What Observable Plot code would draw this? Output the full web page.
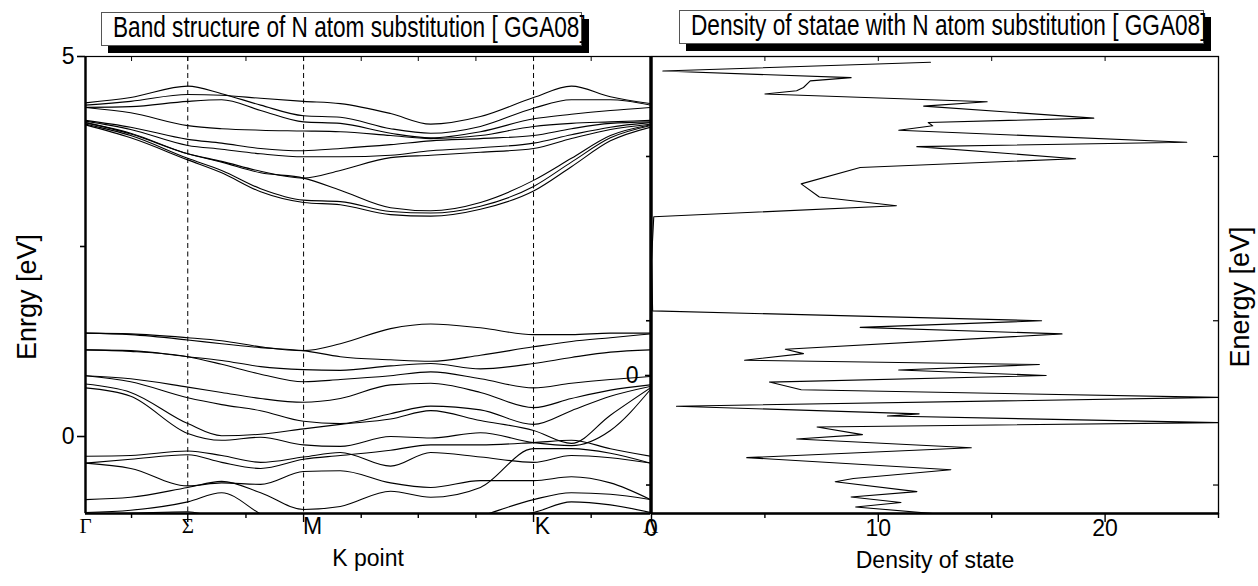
<!DOCTYPE html>
<html>
<head>
<meta charset="utf-8">
<script src="https://cdn.jsdelivr.net/npm/d3@7"></script>
<script src="https://cdn.jsdelivr.net/npm/@observablehq/plot@0.6"></script>
<style>
  html, body { margin: 0; padding: 0; background: #fff; }
  #wrap { position: relative; width: 1258px; height: 586px; overflow: hidden; }
  #wrap svg { position: absolute; top: 0; overflow: visible; background: transparent; }
  .title {
    position: absolute; height: 34px; box-sizing: border-box;
    border: 1px solid #555; background: #fff; box-shadow: 7px 7px 0 #000;
    font-family: "Liberation Sans", Arial, sans-serif;
    font-size: 29px; line-height: 29px; padding-left: 11px; white-space: nowrap; color: #000;
  }
  .title span { display: inline-block; transform: scaleX(0.78); transform-origin: 0 50%; }
</style>
</head>
<body>
<div id="wrap">
  <div class="title" style="left:101px; top:12px; width:481px;"><span>Band structure of N atom substitution [ GGA08]</span></div>
  <div class="title" style="left:679px; top:10px; width:525px;"><span>Density of statae with N atom substitution [ GGA08]</span></div>
</div>
<script>
// ---- k-path (fraction of total path length) ----
const kPath = [0, 0.080, 0.181, 0.241, 0.310, 0.386, 0.451, 0.540, 0.611, 0.699, 0.793, 0.860, 0.929, 1.0];

// high-symmetry points on the path
const symNames = ["Γ", "Σ", "M", "K", "Λ"];
const symK = [0, 0.181, 0.386, 0.793, 1.0];
// tick marks along the path
const pathTicks = [0.0815, 0.181, 0.284, 0.386, 0.488, 0.589, 0.691, 0.793, 0.895, 1.0];

// ---- conduction bands (eV) ----
const cb1 = [4.36, 4.41, 4.50, 4.49, 4.45, 4.41, 4.38, 4.25, 4.11, 4.21, 4.46, 4.61, 4.47, 4.38];
const cb2 = [4.39, 4.46, 4.61, 4.51, 4.36, 4.22, 4.20, 4.05, 3.99, 4.08, 4.32, 4.43, 4.43, 4.36];
const cb3 = [4.33, 4.34, 4.41, 4.43, 4.29, 4.14, 4.12, 3.99, 3.93, 4.01, 4.18, 4.24, 4.29, 4.33];
const cb4 = [4.33, 4.26, 4.09, 4.05, 4.03, 4.02, 4.01, 3.96, 3.92, 3.96, 4.08, 4.12, 4.14, 4.16];
const cb5 = [4.16, 4.07, 3.91, 3.86, 3.79, 3.76, 3.79, 3.84, 3.89, 3.92, 3.96, 4.05, 4.12, 4.14];
const cb6 = [4.15, 4.04, 3.83, 3.78, 3.72, 3.68, 3.68, 3.70, 3.76, 3.80, 3.86, 3.97, 4.07, 4.13];
const cb7 = [4.13, 3.99, 3.72, 3.62, 3.49, 3.40, 3.50, 3.67, 3.70, 3.74, 3.79, 3.92, 4.04, 4.11];
const cb8 = [4.13, 3.98, 3.72, 3.61, 3.47, 3.40, 3.24, 3.01, 2.97, 3.08, 3.37, 3.66, 3.96, 4.10];
const cb9 = [4.11, 3.96, 3.66, 3.50, 3.26, 3.11, 3.09, 2.96, 2.94, 3.03, 3.29, 3.61, 3.93, 4.09];
const cb10 = [4.10, 3.93, 3.64, 3.47, 3.22, 3.08, 3.05, 2.92, 2.90, 2.99, 3.23, 3.55, 3.89, 4.07];

// ---- valence bands (eV) ----
const vb1 = [1.36, 1.35, 1.30, 1.26, 1.18, 1.13, 1.22, 1.42, 1.48, 1.43, 1.34, 1.34, 1.36, 1.36];
const vb2 = [1.36, 1.34, 1.27, 1.22, 1.17, 1.13, 1.05, 1.01, 0.99, 1.07, 1.18, 1.25, 1.30, 1.35];
const vb3 = [1.14, 1.13, 1.05, 1.00, 0.92, 0.88, 0.87, 0.93, 0.96, 0.89, 0.96, 1.04, 1.11, 1.14];
const vb4 = [1.14, 1.12, 1.05, 0.95, 0.82, 0.72, 0.75, 0.80, 0.85, 0.76, 0.64, 0.70, 0.75, 0.79];
const vb5 = [0.80, 0.76, 0.65, 0.58, 0.50, 0.45, 0.50, 0.68, 0.70, 0.58, 0.38, 0.50, 0.61, 0.68];
const vb6 = [0.80, 0.72, 0.51, 0.42, 0.34, 0.20, 0.17, 0.30, 0.40, 0.35, 0.16, 0.34, 0.53, 0.66];
const vb7 = [0.69, 0.58, 0.17, 0.01, 0.03, 0.10, 0.16, 0.23, 0.34, 0.21, 0.08, -0.09, 0.28, 0.64];
const vb8 = [0.64, 0.53, 0.04, -0.05, -0.01, -0.11, -0.13, 0.00, -0.02, 0.05, -0.08, -0.12, 0.08, 0.62];
const vb9 = [-0.26, -0.25, -0.19, -0.25, -0.34, -0.27, -0.21, -0.39, -0.21, -0.27, -0.34, -0.25, -0.28, -0.35];
const vb10 = [-0.35, -0.30, -0.24, -0.34, -0.42, -0.30, -0.25, -0.18, -0.11, -0.11, -0.08, -0.05, -0.16, -0.26];
const vb11 = [-0.35, -0.42, -0.65, -0.61, -0.63, -0.46, -0.45, -0.61, -0.67, -0.58, -0.58, -0.53, -0.61, -0.83];
const vb12 = [-0.83, -0.80, -0.67, -0.59, -0.74, -0.96, -0.92, -0.72, -0.80, -0.67, -0.16, -0.16, -0.22, -0.35];
const vb13 = [-1.00, -0.97, -0.86, -0.74, -1.02, -1.30, -1.35, -1.30, -1.25, -1.05, -0.83, -0.74, -0.76, -0.83];
const vb14 = [-1.02, -1.01, -0.99, -1.10, -1.25, -1.35, -1.35, -1.30, -1.20, -1.10, -1.00, -0.86, -0.90, -1.00];

// ---- density of states, traced from high to low energy ----
const dosEnergy = [2.86, 2.78, 2.72, 2.69, 2.63, 2.60, 2.57, 2.50, 2.46, 2.35, 2.31, 2.28, 2.24,
  2.13, 2.09, 1.98, 1.90, 1.75, 1.63, 1.55, 1.45, 1.05, 0.59, 0.50, 0.44, 0.38,
  0.24, 0.20, 0.14, 0.10, 0.05, 0.00, -0.06, -0.13, -0.20, -0.28, -0.35, -0.37, -0.43,
  -0.47, -0.54, -0.58, -0.66, -0.75, -0.86, -0.94, -0.97, -1.06, -1.11, -1.16, -1.20, -1.28];
const dosValue = [12.3, 0.5, 8.8, 7.0, 6.7, 6.4, 5.0, 14.8, 12.0, 19.5, 12.2, 12.4, 10.9,
  23.6, 11.7, 18.7, 9.2, 6.6, 7.4, 10.8, 0.1, 0.0, 0.05, 17.2, 9.2, 18.1,
  5.9, 6.7, 4.1, 17.1, 10.9, 17.4, 5.2, 6.6, 25.0, 1.1, 11.8, 10.4, 25.0,
  7.3, 9.3, 6.4, 14.1, 4.2, 13.2, 8.9, 8.1, 11.7, 8.8, 11.0, 9.0, 13.5];

// tick values
const bandYLabels = [0, 5];
const bandYMinor = [2.5];
const dosXLabels = [0, 10, 20];
const dosXMinor = [5, 15, 25];
const dosYLabels = [0];
const dosYMinor = [2, 0.5, -1];

const bandYDomain = [-1.013, 5];
const dosYDomain = [-1.26, 2.913];
const dosXDomain = [0, 25];

const SANS = "'Liberation Sans', Arial, sans-serif";
const SERIF = "'Liberation Serif', 'Times New Roman', serif";
const intFormat = d => String(d);
const blank = () => "";

const bands = {cb1, cb2, cb3, cb4, cb5, cb6, cb7, cb8, cb9, cb10,
  vb1, vb2, vb3, vb4, vb5, vb6, vb7, vb8, vb9, vb10, vb11, vb12, vb13, vb14};
const bandRows = Object.entries(bands).flatMap(([band, es]) =>
  es.map((e, i) => ({band, k: kPath[i], e})));
const symRows = symNames.map((name, i) => ({name, k: symK[i]}));
const dosRows = dosEnergy.map((e, i) => ({e, d: dosValue[i]}));

const minorPath = pathTicks.filter(t => !symK.includes(t));
const majorPath = symK.filter(t => t > 0 && t < 1);

const baseStyle = {background: "transparent", overflow: "visible", fontFamily: SANS, fontSize: "22px", color: "#000"};

// ---- left panel: band structure ----
const bandPlot = Plot.plot({
  width: 650, height: 586,
  marginLeft: 85, marginRight: 0, marginTop: 56, marginBottom: 73,
  x: {domain: [0, 1], axis: null},
  y: {domain: bandYDomain, axis: null},
  style: baseStyle,
  marks: [
    Plot.ruleX(majorPath, {stroke: "#000", strokeWidth: 1, strokeDasharray: "5,3.5"}),
    Plot.line(bandRows, {x: "k", y: "e", z: "band", curve: "monotone-x", stroke: "#000", strokeWidth: 1.1, clip: true}),
    Plot.frame({stroke: "#000", strokeWidth: 1.2}),
    Plot.ruleX([0, 1], {stroke: "#000", strokeWidth: 2.4}),
    Plot.ruleY([bandYDomain[0]], {stroke: "#000", strokeWidth: 2.6}),
    // energy axis
    Plot.axisY(bandYLabels, {anchor: "left", tickSize: 8, tickFormat: blank, strokeWidth: 1.6, label: null}),
    Plot.axisY(bandYMinor, {anchor: "left", tickSize: 5, tickFormat: blank, strokeWidth: 1.6, label: null}),
    Plot.text(bandYLabels, {y: d => d, text: intFormat, frameAnchor: "left", textAnchor: "end", dx: -11,
      fontFamily: SANS, fontSize: 23, ariaLabel: "tick-number"}),
    // k-path ticks, outward below and inward along the top
    Plot.axisX(minorPath, {anchor: "bottom", tickSize: 5, tickFormat: blank, strokeWidth: 1.4, label: null}),
    Plot.axisX(majorPath, {anchor: "bottom", tickSize: 9, tickFormat: blank, strokeWidth: 1.4, label: null}),
    Plot.tickX(pathTicks, {x: d => d, insetBottom: 452, stroke: "#000", strokeWidth: 1}),
    // high-symmetry labels
    Plot.text(symRows.filter(d => d.name !== "M" && d.name !== "K"),
      {x: "k", text: "name", frameAnchor: "bottom", dy: 19, fontFamily: SERIF, fontSize: 21}),
    Plot.text(symRows.filter(d => d.name === "M" || d.name === "K"),
      {x: "k", text: "name", frameAnchor: "bottom", dy: 20, dx: 9, fontFamily: SANS, fontSize: 23}),
    Plot.text(["K point"], {frameAnchor: "bottom", dy: 52, fontFamily: SANS, fontSize: 23}),
    Plot.text(["Enrgy [eV]"], {frameAnchor: "left", textAnchor: "middle", dx: -58, dy: 12, rotate: -90, fontFamily: SANS, fontSize: 27})
  ]
});
bandPlot.style.left = "0px";

// ---- right panel: density of states ----
const dosPlot = Plot.plot({
  width: 658, height: 586,
  marginLeft: 51, marginRight: 40, marginTop: 56, marginBottom: 73,
  x: {domain: dosXDomain, axis: null},
  y: {domain: dosYDomain, axis: null},
  style: baseStyle,
  marks: [
    Plot.line(dosRows, {x: "d", y: "e", stroke: "#000", strokeWidth: 1.1, clip: true}),
    Plot.frame({stroke: "#000", strokeWidth: 1.3}),
    Plot.ruleX([dosXDomain[0]], {stroke: "#000", strokeWidth: 2.4}),
    Plot.ruleY([dosYDomain[0]], {stroke: "#000", strokeWidth: 2.6}),
    Plot.axisY(dosYLabels, {anchor: "left", tickSize: 6, tickFormat: blank, strokeWidth: 1.6, label: null}),
    Plot.axisY(dosYMinor, {anchor: "left", tickSize: 5, tickFormat: blank, strokeWidth: 1.6, label: null}),
    Plot.text(dosYLabels, {y: d => d, text: intFormat, frameAnchor: "left", textAnchor: "end", dx: -13,
      fontFamily: SANS, fontSize: 23, ariaLabel: "tick-number"}),
    Plot.tickY(dosYMinor, {y: d => d, insetLeft: 562, stroke: "#000", strokeWidth: 1.2}),
    Plot.axisX(dosXLabels, {anchor: "bottom", tickSize: 9, tickFormat: blank, strokeWidth: 1.4, label: null}),
    Plot.axisX(dosXMinor, {anchor: "bottom", tickSize: 5, tickFormat: blank, strokeWidth: 1.4, label: null}),
    Plot.text(dosXLabels, {x: d => d, text: intFormat, frameAnchor: "bottom", dy: 22,
      fontFamily: SANS, fontSize: 23, ariaLabel: "tick-number"}),
    Plot.tickX([5, 10, 15, 20], {x: d => d, insetBottom: 452, stroke: "#000", strokeWidth: 1}),
    Plot.text(["Density of state"], {frameAnchor: "bottom", dy: 54, fontFamily: SANS, fontSize: 23}),
    Plot.text(["Energy [eV]"], {frameAnchor: "right", textAnchor: "middle", dx: 22, dy: 12, rotate: -90, fontFamily: SANS, fontSize: 27})
  ]
});
dosPlot.style.left = "600px";

const wrap = document.getElementById("wrap");
wrap.insertBefore(dosPlot, wrap.firstChild);
wrap.insertBefore(bandPlot, wrap.firstChild);

// numeric tick labels are set in a condensed face
for (const svg of [bandPlot, dosPlot]) {
  svg.querySelectorAll('g[aria-label="tick-number"] text').forEach(t => {
    const w = t.getComputedTextLength();
    if (w > 0) {
      t.setAttribute("textLength", (w * 0.8).toFixed(1));
      t.setAttribute("lengthAdjust", "spacingAndGlyphs");
    }
  });
}
</script>
</body>
</html>
